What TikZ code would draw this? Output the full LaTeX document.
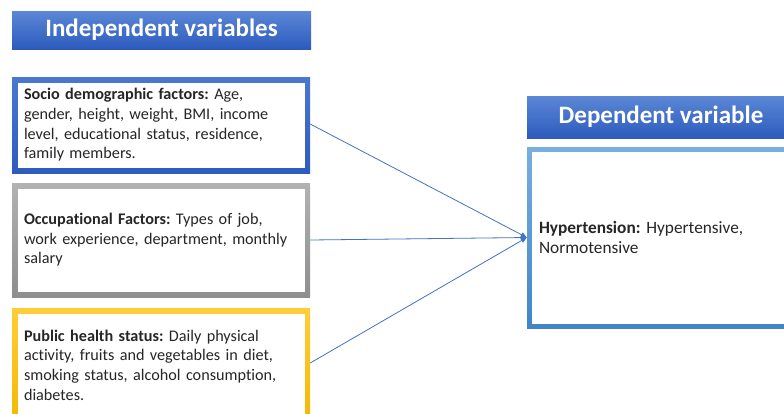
\documentclass[tikz,border=0pt]{standalone}
\usepackage{fontspec}
\setmainfont{Carlito}[Ligatures={NoCommon}]
\usetikzlibrary{arrows.meta}
\frenchspacing

\definecolor{titletop}{HTML}{5B87D6}
\definecolor{titlebot}{HTML}{2C5BBD}
\definecolor{socitop}{HTML}{4A78D0}
\definecolor{socibot}{HTML}{2E5BBE}
\definecolor{occtop}{HTML}{B2B2B2}
\definecolor{occbot}{HTML}{8E8E8E}
\definecolor{pubtop}{HTML}{FFCD3A}
\definecolor{pubbot}{HTML}{F2B900}
\definecolor{deptop}{HTML}{78AEE0}
\definecolor{depbot}{HTML}{3F86C8}
\definecolor{linkblue}{HTML}{4472C4}
\definecolor{bodytext}{HTML}{262626}

\tikzset{
  titlebox/.style={rectangle, inner sep=0pt, text=white,
    top color=titletop, bottom color=titlebot,
    font=\bfseries\fontsize{25}{28}\selectfont},
  % rectangle with a shaded frame of width #3 and a white interior
  framebox/.style n args={3}{rectangle, inner xsep=12pt, inner ysep=0pt,
    align=left, text=bodytext, font=\fontsize{16.2}{19.6}\selectfont,
    path picture={
      \shade[top color=#1, bottom color=#2]
        (path picture bounding box.south west) rectangle
        (path picture bounding box.north east);
      \fill[white]
        ([shift={(#3,#3)}]path picture bounding box.south west) rectangle
        ([shift={(-#3,-#3)}]path picture bounding box.north east);
    }},
  link/.style={draw=linkblue, line width=0.8pt,
    -{Triangle[length=6pt,width=5pt]}}
}

\begin{document}
\begin{tikzpicture}[x=1pt,y=-1pt]
\useasboundingbox (0,0) rectangle (784,413);
\fill[white] (0,0) rectangle (784,413);

% column headings
\node[titlebox, minimum width=299pt, minimum height=38pt] (indep) at (161.5,30)
  {Independent variables};
\node[titlebox, minimum width=268pt, minimum height=42pt] (dep) at (661,117)
  {Dependent variable};

% independent variable groups
\node[framebox={socitop}{socibot}{5.5pt}, text width=274pt,
      minimum height=96pt] (socio) at (161,125)
  {\textbf{Socio demographic factors:} Age,\\
   gender, height, weight, BMI, income\\
   level, educational status, residence,\\
   family members.};
\node[framebox={occtop}{occbot}{5.5pt}, text width=274pt,
      minimum height=114pt] (occ) at (161,240)
  {\textbf{Occupational Factors:} Types of job,\\
   work experience, department, monthly\\
   salary};
\node[framebox={pubtop}{pubbot}{5.5pt}, text width=274pt,
      minimum height=114pt] (pub) at (161,365)
  {\textbf{Public health status:} Daily physical\\
   activity, fruits and vegetables in diet,\\
   smoking status, alcohol consumption,\\
   diabetes.};

% dependent variable
\node[framebox={deptop}{depbot}{4.5pt}, text width=244pt,
      minimum height=181pt, font=\fontsize{17.3}{20}\selectfont]
  (hyp) at (661,237.5)
  {\textbf{Hypertension:} Hypertensive,\\
   Normotensive};

% connectors
\draw[link] ([yshift=1pt]socio.east) -- (hyp.west);
\draw[link] (occ.east) -- (hyp.west);
\draw[link] ([yshift=2pt]pub.east) -- (hyp.west);
\end{tikzpicture}
\end{document}
